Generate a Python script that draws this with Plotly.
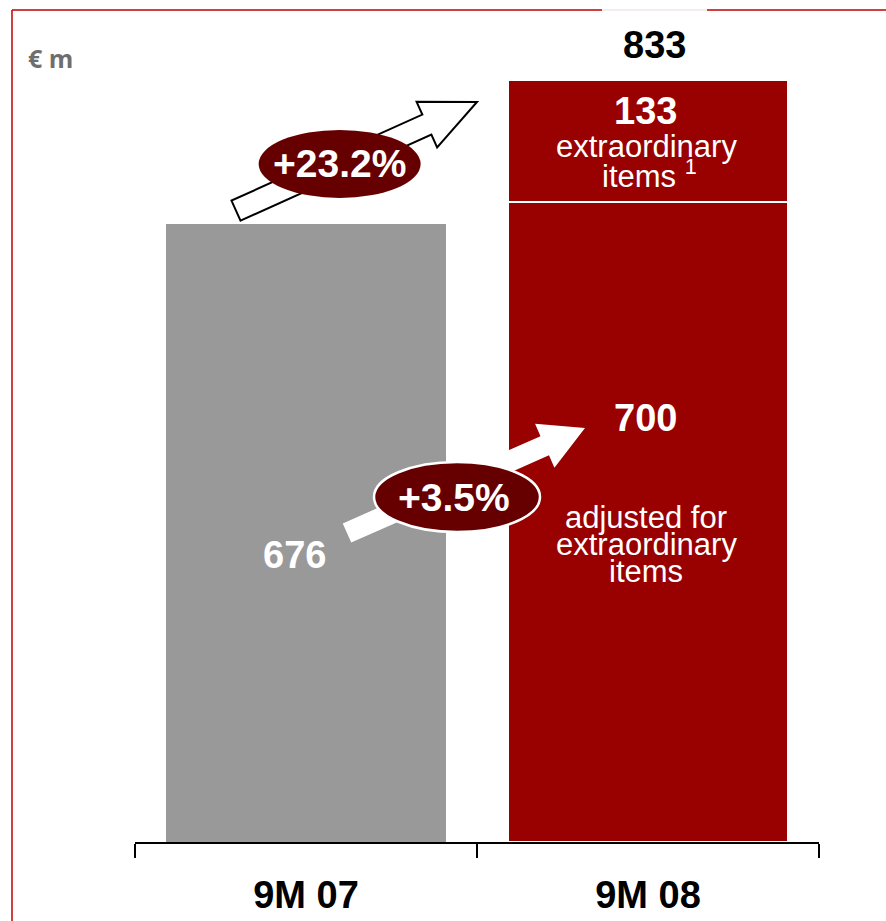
import math
import plotly.graph_objects as go

# ---- data -------------------------------------------------------------
periods = ["9M 07", "9M 08"]
adjusted = [676, 700]          # result adjusted for extraordinary items
extraordinary = [0, 133]       # extraordinary items (9M 08 only)
growth_labels = ["+23.2%", "+3.5%"]   # reported growth, adjusted growth
unit_label = "€ m"
adjusted_caption = ["adjusted for", "extraordinary", "items"]
extra_caption = ["extraordinary", "items <sup>1</sup>"]

totals = [a + e for a, e in zip(adjusted, extraordinary)]

# ---- canvas / axis geometry ------------------------------------------
W, H = 886, 921
M = dict(l=135, r=67, t=80, b=79)
X_RANGE = [-0.5, 1.5]
Y_RANGE = [0, totals[1]]
PW = W - M["l"] - M["r"]
PH = H - M["t"] - M["b"]

GREY = "#999999"
RED = "#990000"
DARK = "#660000"
FRAME = "#C00000"
FONT = "Liberation Sans, Arial, Helvetica, sans-serif"


def px_x(xv):
    return M["l"] + (xv - X_RANGE[0]) / (X_RANGE[1] - X_RANGE[0]) * PW


def px_y(yv):
    return M["t"] + PH - (yv - Y_RANGE[0]) / (Y_RANGE[1] - Y_RANGE[0]) * PH


def paper_x(px):
    return (px - M["l"]) / PW


def paper_y(py):
    return (M["t"] + PH - py) / PH


def arrow_path(tail, tip, shaft, head_len, head_half):
    """Block-arrow outline (pixel inputs) as an SVG path in paper coords."""
    dx, dy = tip[0] - tail[0], tip[1] - tail[1]
    length = math.hypot(dx, dy)
    ux, uy = dx / length, dy / length
    nx, ny = -uy, ux
    bx, by = tip[0] - ux * head_len, tip[1] - uy * head_len
    pts = [
        (tail[0] + nx * shaft, tail[1] + ny * shaft),
        (bx + nx * shaft, by + ny * shaft),
        (bx + nx * head_half, by + ny * head_half),
        tip,
        (bx - nx * head_half, by - ny * head_half),
        (bx - nx * shaft, by - ny * shaft),
        (tail[0] - nx * shaft, tail[1] - ny * shaft),
    ]
    d = "M " + " L ".join(f"{paper_x(x):.5f},{paper_y(y):.5f}" for x, y in pts) + " Z"
    return d


def ellipse(cx, cy, w, h, fill, line_color, line_width):
    return dict(
        type="circle", xref="paper", yref="paper", layer="above",
        x0=paper_x(cx - w / 2), x1=paper_x(cx + w / 2),
        y0=paper_y(cy + h / 2), y1=paper_y(cy - h / 2),
        fillcolor=fill, line=dict(color=line_color, width=line_width),
    )


# ---- bars -------------------------------------------------------------
fig = go.Figure()
fig.add_trace(go.Bar(
    x=[periods[0]], y=[adjusted[0]], marker=dict(color=GREY, line=dict(width=0)),
    width=0.82, hoverinfo="skip",
))
fig.add_trace(go.Bar(
    x=[periods[1]], y=[adjusted[1]], marker=dict(color=RED, line=dict(color="white", width=2)),
    width=0.82, hoverinfo="skip",
))
fig.add_trace(go.Bar(
    x=[periods[1]], y=[extraordinary[1]], marker=dict(color=RED, line=dict(color="white", width=2)),
    width=0.82, hoverinfo="skip",
))

# ---- arrows and growth badges ----------------------------------------
shapes = []

# reported growth: outlined arrow from the 9M 07 bar top toward the 9M 08 total
a1_tail = (px_x(0) - 70, px_y(totals[0]) - 13)
a1_tip = (px_x(0.5), px_y(totals[1]) + 22)
shapes.append(dict(
    type="path", xref="paper", yref="paper", layer="above",
    path=arrow_path(a1_tail, a1_tip, 11, 55, 25),
    fillcolor="white", line=dict(color="black", width=2),
))

# adjusted growth: solid white arrow between the two inner labels
lab676 = (px_x(0) - 12, 555)
lab700 = (px_x(1) - 3, 418)
a2_tail = (lab676[0] + 53, lab676[1] - 22)
a2_tip = (lab700[0] - 60, lab700[1] + 10)
shapes.append(dict(
    type="path", xref="paper", yref="paper", layer="above",
    path=arrow_path(a2_tail, a2_tip, 10.5, 44, 24),
    fillcolor="white", line=dict(color="white", width=0),
))

t = 0.43
e1 = (a1_tail[0] + t * (a1_tip[0] - a1_tail[0]), a1_tail[1] + t * (a1_tip[1] - a1_tail[1]))
shapes.append(ellipse(e1[0], e1[1], 162, 68, DARK, DARK, 0))
e2 = (457, 497)
shapes.append(ellipse(e2[0], e2[1], 166, 70, DARK, "white", 2.5))

# page frame
fy = paper_y(10)
shapes += [
    dict(type="line", xref="paper", yref="paper", x0=paper_x(12), x1=paper_x(602),
         y0=fy, y1=fy, line=dict(color=FRAME, width=1.5)),
    dict(type="line", xref="paper", yref="paper", x0=paper_x(602), x1=paper_x(707),
         y0=fy, y1=fy, line=dict(color="#F2E6E6", width=1.5)),
    dict(type="line", xref="paper", yref="paper", x0=paper_x(707), x1=paper_x(W),
         y0=fy, y1=fy, line=dict(color=FRAME, width=1.5)),
    dict(type="line", xref="paper", yref="paper", x0=paper_x(12), x1=paper_x(12),
         y0=fy, y1=paper_y(H), line=dict(color=FRAME, width=1.5)),
]

# ---- text -------------------------------------------------------------
def note(x, y, text, size, color="white", bold=False, xref="x", yref="y",
         xanchor="center", xshift=0, yshift=0, family=FONT):
    return dict(
        x=x, y=y, xref=xref, yref=yref, text=text, showarrow=False,
        xanchor=xanchor, yanchor="middle", xshift=xshift, yshift=yshift,
        font=dict(family=family, size=size, color=color, weight=700 if bold else 400),
    )


ann = []
ann.append(note(paper_x(26), paper_y(58), unit_label, 25, color="#6E6E6E", bold=True,
                xref="paper", yref="paper", xanchor="left", family="Open Sans, sans-serif"))
# 9M 08 total above the bar
ann.append(note(1, totals[1], f"{totals[1]}", 38, color="black", bold=True, xshift=6, yshift=35))
# extraordinary segment labels
seg_mid = adjusted[1] + extraordinary[1] / 2
ann.append(note(1, seg_mid, f"{extraordinary[1]}", 38, bold=True, xshift=-3, yshift=30))
ann.append(note(1, seg_mid, extra_caption[0], 31, xshift=-2, yshift=-6))
ann.append(note(1, seg_mid, extra_caption[1], 31, xshift=1, yshift=-33))
# adjusted values inside the bars
ann.append(note(paper_x(lab676[0]), paper_y(lab676[1]), f"{adjusted[0]}", 38, bold=True,
                xref="paper", yref="paper"))
ann.append(note(paper_x(lab700[0]), paper_y(lab700[1]), f"{adjusted[1]}", 38, bold=True,
                xref="paper", yref="paper"))
for line, py in zip(adjusted_caption, [517, 544, 571]):
    ann.append(note(paper_x(px_x(1) - 2), paper_y(py), line, 31, xref="paper", yref="paper"))
# growth badges
ann.append(note(paper_x(e1[0]), paper_y(e1[1]), growth_labels[0], 39, bold=True,
                xref="paper", yref="paper"))
ann.append(note(paper_x(e2[0] - 3), paper_y(e2[1]), growth_labels[1], 39, bold=True,
                xref="paper", yref="paper"))

fig.update_layout(
    width=W, height=H, margin=dict(M, autoexpand=False),
    paper_bgcolor="white", plot_bgcolor="white",
    barmode="stack", showlegend=False, bargap=0,
    shapes=shapes, annotations=ann,
    font=dict(family=FONT),
    xaxis=dict(
        type="category", range=X_RANGE, tickson="boundaries", automargin=False,
        showline=True, linecolor="black", linewidth=2,
        ticks="outside", ticklen=14, tickwidth=2, tickcolor="black",
        ticklabelstandoff=18,
        tickfont=dict(family=FONT, size=38, color="black", weight=700),
        showgrid=False, zeroline=False, fixedrange=True,
    ),
    yaxis=dict(
        range=Y_RANGE, visible=False, showgrid=False, zeroline=False, fixedrange=True,
        automargin=False,
    ),
)

fig.write_html("out.html", config=dict(displayModeBar=False))
